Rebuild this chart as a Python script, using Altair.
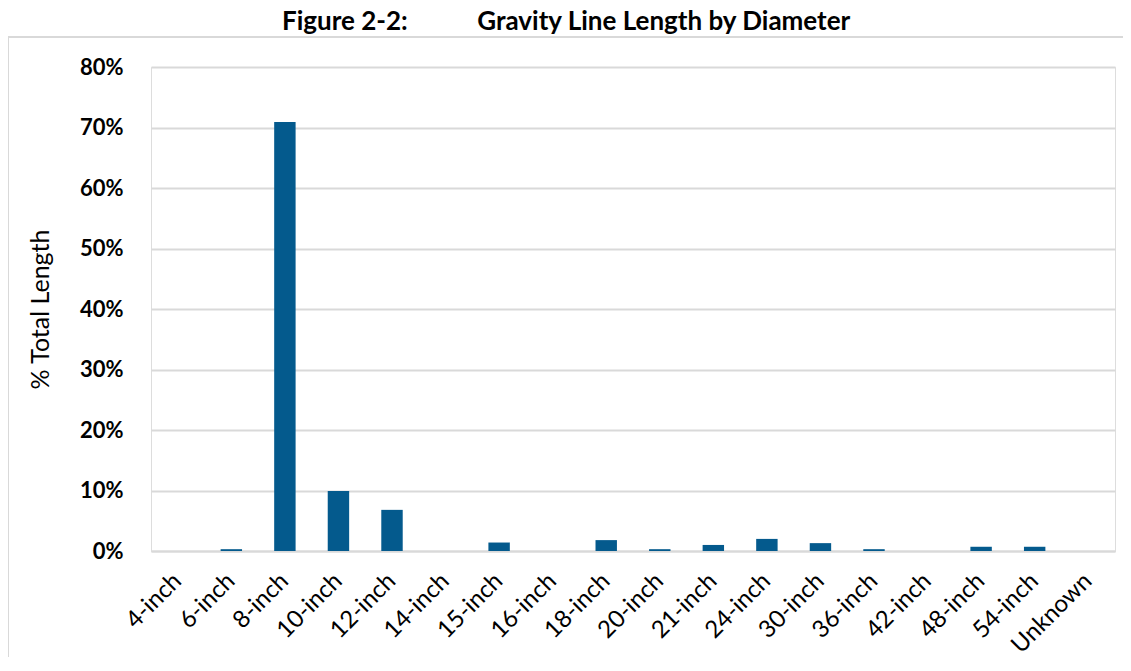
import altair as alt
import pandas as pd

categories = ["4-inch", "6-inch", "8-inch", "10-inch", "12-inch", "14-inch", "15-inch",
              "16-inch", "18-inch", "20-inch", "21-inch", "24-inch", "30-inch", "36-inch",
              "42-inch", "48-inch", "54-inch", "Unknown"]
values = [0.0, 0.3, 70.9, 9.9, 6.8, 0.0, 1.4, 0.0, 1.8, 0.3, 1.0, 2.0, 1.3, 0.3,
          0.0, 0.7, 0.7, 0.0]
y_ticks = [0, 10, 20, 30, 40, 50, 60, 70, 80]

df = pd.DataFrame({"diameter": categories, "pct": [v / 100 for v in values]})

FONT = "Lato"
W, H = 964, 484

bars = alt.Chart(df).mark_bar(color="#045a8d").encode(
    x=alt.X("diameter:N", sort=categories,
            scale=alt.Scale(paddingInner=0.6, paddingOuter=0.3),
            axis=alt.Axis(title=None, labelAngle=-45, labelAlign="right",
                          labelBaseline="middle", labelFontSize=24, labelFont=FONT,
                          labelColor="#000000", labelPadding=26, ticks=False,
                          domain=True, domainColor="#d9d9d9", domainWidth=2,
                          grid=False)),
    y=alt.Y("pct:Q",
            scale=alt.Scale(domain=[0, 0.8]),
            axis=alt.Axis(title="% Total Length", format=".0%",
                          values=[t / 100 for t in y_ticks],
                          titleFont=FONT, titleFontSize=25, titleFontWeight="normal",
                          titleColor="#000000", titlePadding=26,
                          labelFont=FONT, labelFontSize=22, labelFontWeight="bold",
                          labelColor="#000000", labelPadding=28, ticks=False,
                          domain=False, grid=True, gridColor="#d9d9d9", gridWidth=2)),
)

frame = alt.Chart(df).mark_rect(fill=None, stroke="#d9d9d9", strokeWidth=2).encode(
    x=alt.value(-143), x2=alt.value(990), y=alt.value(-30), y2=alt.value(640)
)

chart = alt.layer(frame, bars).properties(
    width=W, height=H,
    title=alt.TitleParams(
        "Figure 2-2:" + "\u00a0" * 11 + "Gravity Line Length by Diameter",
        font=FONT, fontSize=26, fontWeight="bold", color="#000000",
        anchor="start", frame="group", dx=131, offset=1),
    autosize=alt.AutoSizeParams(type="none"),
    padding={"left": 143, "top": 59, "right": 8, "bottom": 106},
).configure_view(stroke=None).configure(background="#ffffff")

chart.save("out.html", embed_options={"renderer": "svg", "actions": False})
